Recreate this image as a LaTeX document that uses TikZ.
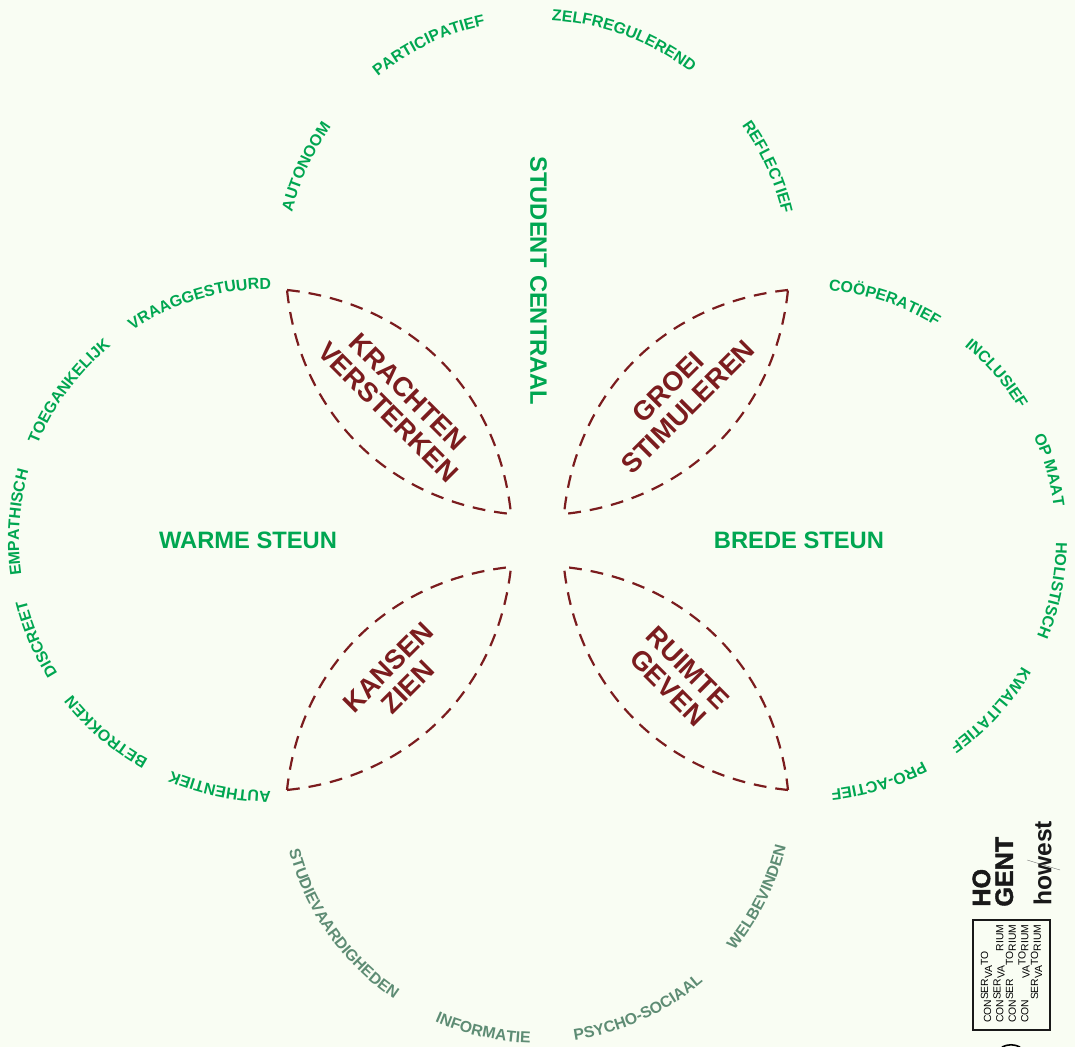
\documentclass[tikz,border=0pt]{standalone}
\usepackage{fontspec}
\setmainfont{Liberation Sans}
\newfontfamily\heavyfont[FakeBold=1.6]{Liberation Sans Bold}
\usetikzlibrary{positioning, decorations.text}

\definecolor{bgcream}{HTML}{F9FDF3}
\definecolor{leafgreen}{HTML}{00A651}
\definecolor{mossgreen}{HTML}{5E8C74}
\definecolor{petalred}{HTML}{7B1C1E}

\newcommand{\csyl}{\raisebox{.28em}{SER}}
\newcommand{\vsyl}{\raisebox{-.12em}{VA}}
\newcommand{\tsyl}{\raisebox{.28em}{TO}}

\begin{document}
\begin{tikzpicture}[
    ringword/.style={decorate, decoration={text along path, text align=center,
        text={|\fontsize{9.05pt}{11pt}\bfseries\color{leafgreen}|#1}}},
    ringgrey/.style={decorate, decoration={text along path, text align=center,
        text={|\fontsize{9pt}{11pt}\bfseries\color{mossgreen}|#1}}},
    bigword/.style={text=leafgreen, font=\fontsize{13.5pt}{16pt}\bfseries, inner sep=0pt},
    petalword/.style={text=petalred, font=\fontsize{15.4pt}{16pt}\bfseries, align=center, inner sep=0pt},
    petaledge/.style={draw=petalred, line width=1.25pt, dash pattern=on 7.3pt off 5.1pt},
    logoword/.style={text=black!90, font=\fontsize{14.3pt}{13pt}\heavyfont, align=left, rotate=90, anchor=south west, inner sep=0pt}]

\useasboundingbox[fill=bgcream] (0,0) rectangle (21.5,20.94);

% Rings
\coordinate (ringleft) at (5.4,10.14);
\coordinate (ringright) at (16.1,10.14);
\coordinate (ringtop) at (10.74,15.5);
\coordinate (ringbottom) at (10.74,5.2);

% Left ring
\path[ringword={AUTHENTIEK}] (ringleft) ++(273:5.02) arc[start angle=273, end angle=244, radius=5.02];
\path[ringword={BETROKKEN}] (ringleft) ++(244:5.02) arc[start angle=244, end angle=215, radius=5.02];
\path[ringword={DISCREET}] (ringleft) ++(215:5.02) arc[start angle=215, end angle=191, radius=5.02];
\path[ringword={EMPATHISCH}] (ringleft) ++(191:5.02) arc[start angle=191, end angle=161, radius=5.02];
\path[ringword={TOEGANKELIJK}] (ringleft) ++(161:5.02) arc[start angle=161, end angle=126, radius=5.02];
\path[ringword={VRAAGGESTUURD}] (ringleft) ++(126:5.02) arc[start angle=126, end angle=87, radius=5.02];

% Right ring
\path[ringword={COÖPERATIEF}] (ringright) ++(88:5.02) arc[start angle=88, end angle=55, radius=5.02];
\path[ringword={INCLUSIEF}] (ringright) ++(54:5.02) arc[start angle=54, end angle=28, radius=5.02];
\path[ringword={OP MAAT}] (ringright) ++(27:5.02) arc[start angle=27, end angle=5, radius=5.02];
\path[ringword={HOLISTISCH}] (ringright) ++(3:5.02) arc[start angle=3, end angle=-26, radius=5.02];
\path[ringword={KWALITATIEF}] (ringright) ++(-27:5.02) arc[start angle=-27, end angle=-58, radius=5.02];
\path[ringword={PRO-ACTIEF}] (ringright) ++(-59:5.02) arc[start angle=-59, end angle=-87, radius=5.02];

% Top ring
\path[ringword={AUTONOOM}] (ringtop) ++(169:5.04) arc[start angle=169, end angle=142, radius=5.04];
\path[ringword={PARTICIPATIEF}] (ringtop) ++(132:5.04) arc[start angle=132, end angle=99, radius=5.04];
\path[ringword={ZELFREGULEREND}] (ringtop) ++(89.5:5.04) arc[start angle=89.5, end angle=49.5, radius=5.04];
\path[ringword={REFLECTIEF}] (ringtop) ++(39:5.04) arc[start angle=39, end angle=10, radius=5.04];

% Bottom ring
\path[ringgrey={STUDIEVAARDIGHEDEN}] (ringbottom) ++(191:5.12) arc[start angle=191, end angle=239.5, radius=5.12];
\path[ringgrey={INFORMATIE}] (ringbottom) ++(243.5:5.12) arc[start angle=243.5, end angle=271.5, radius=5.12];
\path[ringgrey={PSYCHO-SOCIAAL}] (ringbottom) ++(275.5:5.12) arc[start angle=275.5, end angle=313.5, radius=5.12];
\path[ringgrey={WELBEVINDEN}] (ringbottom) ++(318:5.12) arc[start angle=318, end angle=349, radius=5.12];

% Petals
\draw[petaledge] (5.74,15.14) to[bend left=39] (10.22,10.66) to[bend left=39] cycle;
\draw[petaledge] (15.76,15.14) to[bend right=39] (11.28,10.66) to[bend right=39] cycle;
\draw[petaledge] (5.74,5.14) to[bend right=39] (10.22,9.6) to[bend right=39] cycle;
\draw[petaledge] (15.76,5.14) to[bend left=39] (11.28,9.6) to[bend left=39] cycle;

% Labels
\node (student) [bigword, rotate=-90] at (10.77,15.32) {STUDENT CENTRAAL};
\node (warme) [bigword] at (4.96,10.14) {WARME STEUN};
\node (brede) [bigword] at (15.98,10.14) {BREDE STEUN};
\node (krachten) [petalword, rotate=-45] at (7.96,12.9) {KRACHTEN\\VERSTERKEN};
\node (groei) [petalword, rotate=45] at (13.56,13.0) {GROEI\\STIMULEREN};
\node (kansen) [petalword, rotate=45] at (7.96,7.4) {KANSEN\\ZIEN};
\node (ruimte) [petalword, rotate=-45] at (13.56,7.38) {RUIMTE\\GEVEN};

% Logos
\node (hogent) [logoword] at (20.27,2.8) {HO\\GENT};
\node (howest) [logoword, font=\fontsize{14pt}{14pt}\bfseries] at (21.04,2.82) {howest};
\draw[black!60, line width=0.2pt] (20.54,3.74) -- (21.2,3.54);
\node (conserv) [draw=black!90, line width=0.7pt, rotate=90, inner sep=0pt, minimum width=2.2cm, minimum height=1.54cm,
    text width=1.92cm, font=\fontsize{5.9pt}{7.1pt}\selectfont, align=left] at (20.23,1.44)
    {CON\csyl\vsyl\tsyl\\
     CON\csyl\vsyl\hphantom{TO}RIUM\\
     CON\csyl\hphantom{VA}\tsyl RIUM\\
     CON\hphantom{SER}\vsyl\tsyl RIUM\\
     \hphantom{CON}\csyl\vsyl\tsyl RIUM};
\draw[black, line width=0.9pt] (20.04,0) to[bend left=25] (20.4,0);

\end{tikzpicture}
\end{document}
